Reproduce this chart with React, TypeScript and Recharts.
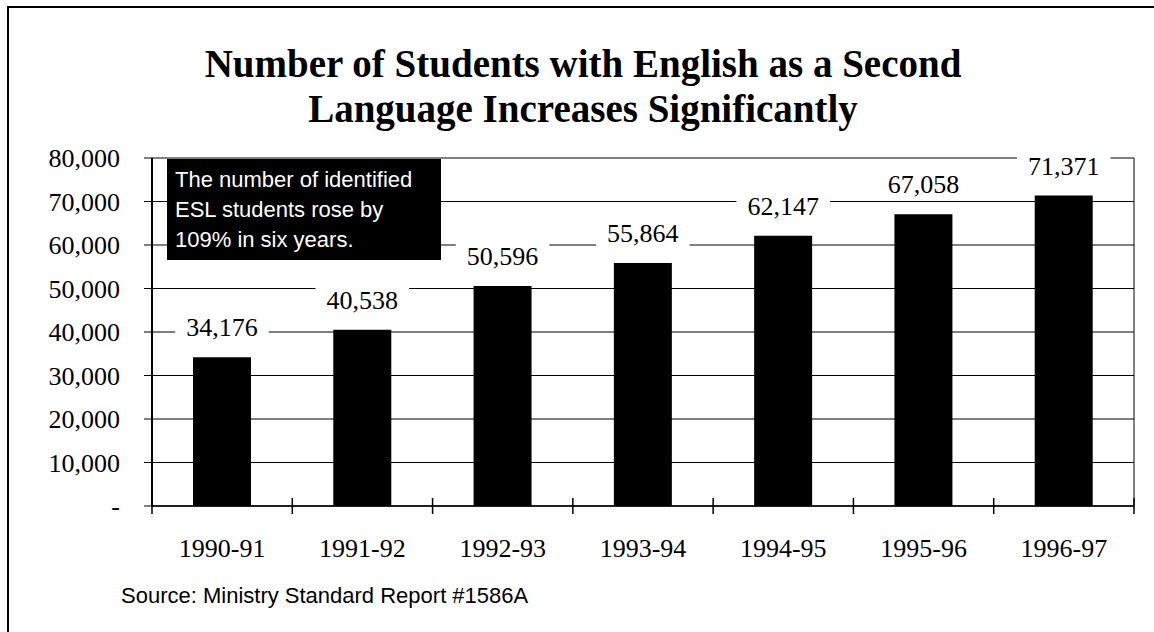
import React from "react";
import { Bar, BarChart, CartesianGrid, LabelList, XAxis, YAxis } from "recharts";

const years = ["1990-91", "1991-92", "1992-93", "1993-94", "1994-95", "1995-96", "1996-97"];
const students = [34176, 40538, 50596, 55864, 62147, 67058, 71371];
const yTicks = [0, 10000, 20000, 30000, 40000, 50000, 60000, 70000, 80000];

const titleLines = ["Number of Students with English as a Second", "Language Increases Significantly"];
const noteLines = ["The number of identified", "ESL students rose by", "109% in six years."];
const sourceText = "Source: Ministry Standard Report #1586A";

const data = years.map((year, i) => ({ year, students: students[i] }));

const W = 1154;
const H = 632;
const PLOT_LEFT = 152;
const PLOT_RIGHT = 1134;
const BAND = (PLOT_RIGHT - PLOT_LEFT) / years.length;
const SERIF = "'Liberation Serif', 'Times New Roman', serif";
const SANS = "'Liberation Sans', Arial, sans-serif";

const fmt = (v: number) => (v === 0 ? "-" : v.toLocaleString("en-US"));

// rough width of a number string in the serif face (digits 0.5em, comma 0.25em)
const numWidth = (s: string, size: number) =>
  s.split("").reduce((w, ch) => w + (ch === "," ? 0.25 : 0.5), 0) * size;

function YearTick(props: any) {
  const { x, y, payload, index } = props;
  const half = BAND / 2;
  return (
    <g>
      <line x1={x - half} x2={x - half} y1={y - 8} y2={y + 8} stroke="#000" strokeWidth={1.5} />
      {index === years.length - 1 && (
        <line x1={x + half} x2={x + half} y1={y - 8} y2={y + 8} stroke="#000" strokeWidth={1.5} />
      )}
      <text x={x} y={y + 51} textAnchor="middle" fontFamily={SERIF} fontSize={26} fill="#000">
        {payload.value}
      </text>
    </g>
  );
}

function ValueLabel(props: any) {
  const { x, y, width, value } = props;
  const cx = Number(x) + Number(width) / 2;
  const cy = Number(y) - 30;
  const text = fmt(Number(value));
  const w = numWidth(text, 26) + 22;
  return (
    <g>
      <rect x={cx - w / 2} y={cy - 16} width={w} height={32} fill="#fff" />
      <text x={cx} y={cy} dy="0.35em" textAnchor="middle" fontFamily={SERIF} fontSize={26} fill="#000">
        {text}
      </text>
    </g>
  );
}

export default function App() {
  return (
    <div
      style={{
        position: "absolute",
        left: 0,
        top: 0,
        width: W,
        height: H,
        overflow: "hidden",
        background: "#fff",
      }}
    >
      <div
        style={{
          position: "absolute",
          left: 7,
          top: 6,
          width: 1300,
          height: 800,
          borderLeft: "2px solid #000",
          borderTop: "2px solid #000",
        }}
      />
      <BarChart
        width={W}
        height={H}
        data={data}
        margin={{ top: 158, right: 20, bottom: 0, left: 0 }}
        style={{ position: "absolute", left: 0, top: 0 }}
      >
        <CartesianGrid
          stroke="#000"
          strokeWidth={1}
          strokeOpacity={1}
          verticalCoordinatesGenerator={({ offset }: any) => [offset.left + offset.width]}
        />
        <XAxis
          dataKey="year"
          height={126}
          interval={0}
          tickSize={0}
          tickMargin={0}
          tickLine={false}
          axisLine={{ stroke: "#000", strokeWidth: 1.5 }}
          tick={<YearTick />}
        />
        <YAxis
          width={152}
          domain={[0, 80000]}
          ticks={yTicks}
          interval={0}
          tickFormatter={fmt}
          tickSize={8}
          tickMargin={24}
          tickLine={{ stroke: "#000", strokeWidth: 1 }}
          axisLine={{ stroke: "#000", strokeWidth: 2 }}
          tick={{ fill: "#000", fontFamily: SERIF, fontSize: 26 }}
        />
        <Bar dataKey="students" fill="#000" barSize={58} isAnimationActive={false}>
          <LabelList dataKey="students" content={<ValueLabel />} />
        </Bar>
      </BarChart>
      <div
        style={{
          position: "absolute",
          left: 0,
          width: 1166,
          top: 41,
          textAlign: "center",
          fontFamily: SERIF,
          fontWeight: 700,
          fontSize: 39,
          lineHeight: "45px",
          color: "#000",
        }}
      >
        {titleLines.map((t) => (
          <div key={t}>{t}</div>
        ))}
      </div>
      <div
        style={{
          position: "absolute",
          left: 167,
          top: 159,
          width: 274,
          height: 101,
          boxSizing: "border-box",
          padding: "6px 0 0 8px",
          background: "#000",
          color: "#fff",
          fontFamily: SANS,
          fontSize: 22,
          lineHeight: "30px",
        }}
      >
        {noteLines.map((t) => (
          <div key={t}>{t}</div>
        ))}
      </div>
      <div
        style={{
          position: "absolute",
          left: 121,
          top: 583,
          fontFamily: SANS,
          fontSize: 22,
          lineHeight: "26px",
          color: "#000",
          whiteSpace: "nowrap",
        }}
      >
        {sourceText}
      </div>
    </div>
  );
}
